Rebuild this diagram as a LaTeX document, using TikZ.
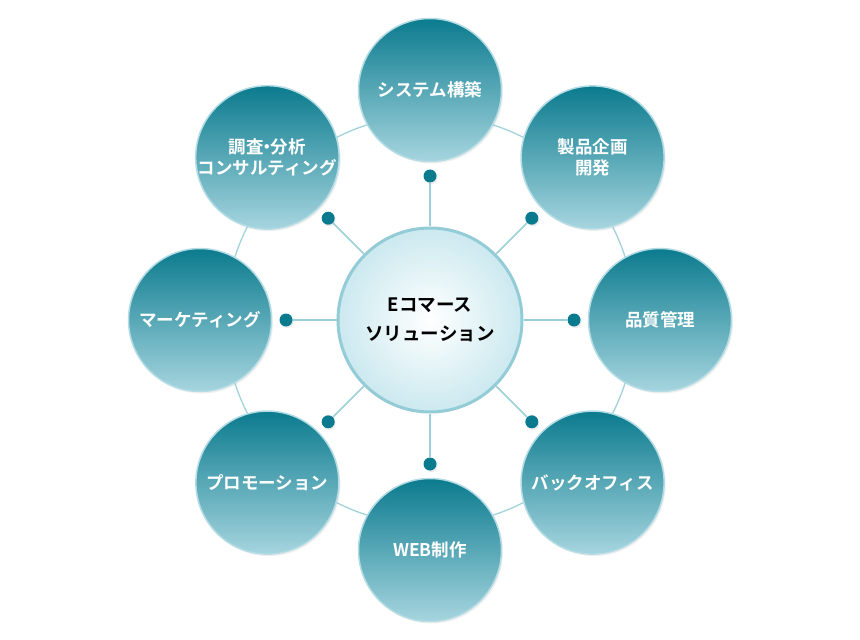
\documentclass[tikz,border=0pt]{standalone}
\usepackage{fontspec}
\setmainfont{Noto Sans CJK JP}[BoldFont={* Bold}]
\usetikzlibrary{backgrounds,shadows}
\pgfdeclarelayer{paper}
\pgfsetlayers{paper,background,main}
\definecolor{tealdark}{HTML}{0B7B8E}
\definecolor{teallight}{HTML}{A6D5DF}
\definecolor{rimcol}{HTML}{B3DCE5}
\definecolor{ringcol}{HTML}{A2D2DC}
\definecolor{spokecol}{HTML}{9CCFDA}
\definecolor{dotcol}{HTML}{0A7B8E}
\definecolor{hubrim}{HTML}{93CBD7}
\definecolor{hubout}{HTML}{CBE9EF}
\tikzset{
  outer/.style={circle, minimum size=143bp, inner sep=0pt, draw=rimcol, line width=1.5bp,
    top color=tealdark, bottom color=teallight, text=white, align=center,
    font=\fontsize{17.5bp}{21bp}\selectfont\bfseries,
    drop shadow={opacity=0.12, shadow xshift=1.5bp, shadow yshift=-2bp}},
  hub/.style={circle, minimum size=184bp, inner sep=0pt, draw=hubrim, line width=3bp,
    inner color=white, outer color=hubout, text=black, align=center,
    font=\fontsize{18.5bp}{29bp}\selectfont\bfseries},
  dotnode/.style={circle, fill=dotcol, minimum size=13bp, inner sep=0pt,
    drop shadow={opacity=0.15, shadow xshift=1bp, shadow yshift=-1.5bp}},
  ringline/.style={draw=ringcol, line width=1.3bp},
  spoke/.style={draw=spokecol, line width=1.6bp}
}
\begin{document}
\begin{tikzpicture}[x=1bp,y=-1bp]
\begin{pgfonlayer}{paper}
\fill[white] (0,0) rectangle (860,640);
\end{pgfonlayer}
\useasboundingbox (0,0) rectangle (860,640);
\coordinate (ctr) at (430,320);
% outer nodes
\node[outer] (o1) at (430,90)    {システム構築};
\node[outer] (o2) at (592.6,157.4) {製品企画\\開発};
\node[outer] (o3) at (660,320)   {品質管理};
\node[outer] (o4) at (592.6,482.6) {バックオフィス};
\node[outer] (o5) at (430,550)   {WEB制作};
\node[outer] (o6) at (267.4,482.6) {プロモーション};
\node[outer] (o7) at (200,320)   {マーケティング};
\node[outer] (o8) at (267.4,157.4) {調査\kern-0.3em・\kern-0.3em分析\\コンサルティング};
% dots
\node[dotnode] (d1) at (430,176) {};
\node[dotnode] (d2) at (531.8,218.2) {};
\node[dotnode] (d3) at (574,320) {};
\node[dotnode] (d4) at (531.8,421.8) {};
\node[dotnode] (d5) at (430,464) {};
\node[dotnode] (d6) at (328.2,421.8) {};
\node[dotnode] (d7) at (286,320) {};
\node[dotnode] (d8) at (328.2,218.2) {};
% hub
\node[hub] (c) at (ctr) {Eコマース\\ソリューション};
\begin{scope}[on background layer]
  \draw[ringline] (ctr) circle[radius=205];
  \foreach \i in {1,...,8} { \draw[spoke] (c) -- (d\i); }
\end{scope}
\end{tikzpicture}
\end{document}
